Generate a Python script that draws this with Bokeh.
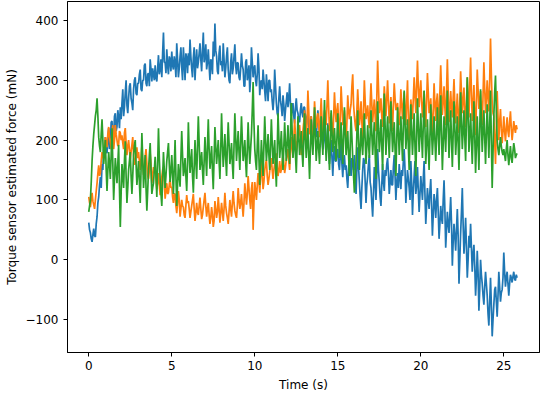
from bokeh.plotting import figure
from bokeh.models import FixedTicker, Range1d
from bokeh.embed import file_html
from bokeh.resources import INLINE

# time step of the sampled traces (s)
dt = 0.05

blue = [
    62, 50, 45, 35, 30, 42, 52, 40, 38, 60, 72, 95, 105, 125, 138, 120, 160, 150, 185, 170,
    205, 190, 178, 200, 220, 185, 195, 230, 232, 205, 210, 240, 245, 215, 222, 250, 238, 220, 255, 235,
    262, 285, 240, 255, 280, 300, 258, 245, 270, 290, 295, 270, 262, 250, 285, 300, 305, 278, 275, 295,
    295, 310, 318, 285, 282, 300, 300, 325, 328, 295, 290, 310, 312, 290, 335, 318, 298, 320, 310, 300,
    325, 305, 298, 320, 342, 310, 318, 335, 305, 345, 380, 330, 330, 312, 352, 325, 310, 340, 335, 315,
    348, 325, 318, 340, 330, 305, 362, 335, 305, 320, 340, 355, 322, 300, 355, 330, 300, 345, 338, 312,
    345, 325, 368, 340, 320, 305, 338, 355, 300, 330, 352, 320, 330, 345, 362, 335, 315, 350, 380, 330,
    340, 360, 318, 330, 352, 325, 300, 335, 330, 310, 365, 340, 395, 350, 340, 315, 310, 345, 358, 325,
    332, 315, 362, 335, 305, 320, 340, 355, 318, 300, 295, 330, 345, 310, 320, 340, 360, 325, 310, 330,
    328, 305, 300, 320, 345, 325, 318, 290, 290, 330, 335, 300, 310, 325, 280, 305, 355, 330, 305, 320,
    325, 300, 290, 310, 345, 320, 275, 295, 300, 285, 318, 300, 282, 265, 310, 290, 265, 300, 300, 280,
    285, 265, 250, 270, 318, 290, 262, 245, 240, 270, 290, 265, 255, 240, 275, 260, 232, 250, 265, 280,
    255, 270, 295, 260, 240, 250, 262, 240, 228, 255, 270, 250, 245, 232, 230, 250, 262, 245, 238, 255,
    255, 235, 225, 240, 245, 225, 210, 230, 240, 220, 195, 215, 230, 215, 205, 225, 250, 230, 215, 205,
    225, 200, 185, 205, 215, 195, 175, 200, 228, 190, 160, 180, 200, 170, 140, 175, 190, 165, 165, 180,
    185, 160, 150, 175, 195, 160, 138, 165, 175, 150, 158, 135, 120, 150, 180, 160, 140, 170, 165, 150,
    175, 140, 110, 150, 188, 155, 130, 105, 85, 120, 150, 170, 165, 130, 95, 125, 140, 160, 175, 130,
    120, 95, 72, 110, 155, 130, 100, 140, 185, 150, 130, 105, 90, 125, 160, 130, 115, 150, 140, 160,
    170, 145, 110, 130, 150, 125, 125, 155, 175, 140, 100, 130, 145, 120, 160, 140, 118, 150, 140, 165,
    185, 150, 95, 125, 150, 135, 120, 100, 165, 130, 75, 115, 140, 165, 110, 125, 155, 115, 80, 110,
    140, 120, 100, 135, 165, 110, 60, 90, 120, 100, 85, 115, 135, 90, 40, 75, 110, 95, 70, 100,
    120, 80, 35, 60, 90, 70, 60, 100, 133, 85, 20, 50, 80, 60, 45, 75, 105, 60, -10, 30,
    60, 40, 15, 50, 85, 40, -40, 0, 45, 80, 120, 60, 10, 35, 70, 20, -30, 0, 40, 20,
    60, 20, -20, 10, 25, -10, -60, -30, 15, -20, -85, -50, 0, -25, -40, -60, -75, -45, -20, -40,
    -60, -90, -110, -70, -30, -75, -128, -100, -75, -50, -45, -70, -95, -60, -20, -45, -70, -55, -50, -30,
    12, -20, -45, -30, -20, -40, -60, -40, -25, -30, -38, -28, -20, -32, -35, -25, -30,
]

orange = [
    105, 95, 88, 100, 112, 98, 92, 85, 100, 115, 128, 145, 158, 140, 145, 165, 180, 170, 172, 190,
    205, 195, 188, 210, 222, 205, 196, 185, 214, 225, 185, 200, 225, 210, 200, 190, 192, 215, 212, 200,
    208, 195, 185, 212, 220, 195, 175, 190, 200, 185, 168, 180, 192, 205, 175, 160, 160, 178, 188, 170,
    180, 165, 150, 170, 190, 160, 142, 155, 172, 185, 160, 140, 135, 150, 178, 160, 128, 140, 155, 145,
    150, 135, 118, 130, 145, 125, 108, 120, 138, 150, 155, 130, 102, 115, 128, 110, 112, 125, 135, 120,
    122, 105, 95, 110, 110, 90, 78, 95, 115, 100, 72, 85, 100, 90, 88, 75, 70, 90, 108, 95,
    98, 85, 70, 80, 90, 100, 110, 85, 65, 78, 95, 80, 75, 90, 104, 85, 68, 75, 88, 100,
    112, 90, 72, 85, 95, 75, 60, 70, 88, 75, 55, 65, 98, 85, 70, 80, 105, 85, 62, 78,
    95, 80, 65, 85, 112, 90, 78, 70, 60, 80, 100, 85, 72, 95, 115, 95, 82, 75, 70, 90,
    120, 100, 85, 95, 110, 90, 72, 95, 128, 110, 92, 110, 140, 120, 100, 85, 118, 130, 50, 95,
    130, 115, 100, 125, 145, 130, 112, 140, 165, 140, 118, 130, 150, 160, 167, 140, 125, 135, 148, 160,
    170, 150, 135, 150, 160, 170, 178, 155, 140, 150, 165, 145, 150, 165, 175, 160, 145, 155, 168, 175,
    185, 165, 150, 180, 205, 190, 172, 200, 235, 210, 180, 195, 200, 215, 225, 200, 175, 195, 215, 230,
    250, 220, 195, 230, 283, 250, 210, 225, 240, 215, 190, 220, 265, 240, 220, 235, 245, 225, 205, 240,
    270, 235, 200, 225, 250, 240, 225, 260, 300, 255, 215, 230, 245, 220, 195, 240, 280, 250, 230, 250,
    262, 230, 205, 240, 290, 260, 225, 235, 250, 220, 195, 230, 275, 250, 235, 250, 260, 290, 310, 260,
    240, 225, 215, 250, 285, 255, 225, 240, 265, 230, 200, 250, 300, 265, 235, 245, 258, 235, 220, 260,
    295, 260, 230, 250, 268, 240, 215, 270, 333, 290, 245, 255, 270, 240, 222, 255, 290, 265, 240, 270,
    300, 265, 228, 250, 272, 240, 215, 260, 295, 270, 250, 255, 262, 240, 225, 250, 285, 260, 235, 260,
    280, 250, 225, 265, 300, 240, 190, 230, 268, 250, 235, 270, 305, 275, 245, 290, 333, 290, 255, 280,
    300, 265, 238, 260, 282, 250, 222, 265, 312, 280, 245, 255, 270, 235, 212, 250, 295, 260, 232, 265,
    278, 245, 222, 280, 325, 280, 242, 265, 290, 255, 225, 280, 335, 280, 230, 250, 282, 255, 238, 270,
    302, 260, 228, 250, 278, 240, 212, 265, 315, 280, 245, 265, 288, 250, 222, 260, 305, 270, 238, 290,
    338, 280, 232, 260, 292, 245, 208, 260, 318, 285, 252, 265, 282, 250, 225, 275, 330, 285, 245, 270,
    300, 270, 248, 300, 370, 310, 262, 245, 240, 200, 160, 220, 282, 240, 200, 230, 252, 220, 195, 215,
    240, 215, 198, 220, 238, 215, 205, 230, 248, 220, 200, 215, 232, 220, 212, 225, 218,
]

green = [
    80, 90, 100, 130, 165, 190, 210, 225, 240, 250, 270, 240, 205, 190, 180, 210, 235, 200, 160, 180,
    200, 150, 115, 150, 180, 160, 135, 175, 220, 160, 100, 135, 170, 150, 128, 160, 192, 120, 55, 110,
    160, 140, 120, 165, 198, 140, 95, 120, 150, 165, 180, 140, 110, 140, 175, 190, 200, 160, 125, 145,
    165, 130, 95, 150, 212, 170, 120, 145, 175, 120, 82, 115, 150, 175, 195, 150, 110, 120, 128, 150,
    172, 140, 105, 160, 220, 170, 135, 110, 90, 135, 180, 150, 120, 140, 165, 180, 195, 160, 130, 150,
    175, 140, 110, 155, 200, 140, 90, 125, 160, 140, 122, 170, 215, 175, 140, 150, 170, 140, 115, 160,
    230, 180, 145, 165, 185, 140, 112, 155, 200, 165, 135, 190, 240, 195, 150, 165, 180, 150, 125, 165,
    205, 170, 140, 190, 235, 185, 152, 170, 190, 150, 118, 170, 222, 190, 160, 180, 200, 165, 135, 185,
    245, 195, 155, 180, 210, 170, 140, 190, 230, 195, 160, 175, 195, 160, 135, 190, 245, 205, 165, 190,
    215, 180, 150, 195, 240, 200, 165, 180, 200, 165, 138, 185, 230, 190, 160, 185, 210, 250, 297, 230,
    185, 165, 150, 190, 225, 170, 125, 160, 200, 170, 140, 190, 240, 200, 165, 185, 210, 175, 150, 190,
    235, 195, 160, 180, 200, 155, 122, 180, 245, 205, 170, 190, 215, 180, 150, 190, 230, 195, 165, 195,
    225, 190, 160, 210, 262, 215, 170, 190, 210, 175, 145, 190, 240, 205, 175, 195, 215, 180, 155, 200,
    245, 205, 170, 195, 220, 175, 135, 185, 235, 200, 175, 210, 255, 210, 165, 190, 215, 185, 160, 200,
    240, 205, 175, 220, 267, 215, 165, 195, 225, 185, 150, 200, 250, 215, 180, 200, 220, 190, 165, 205,
    245, 205, 170, 200, 230, 195, 160, 205, 255, 215, 175, 195, 215, 175, 140, 190, 240, 205, 170, 140,
    112, 140, 165, 210, 250, 200, 150, 185, 220, 195, 175, 210, 245, 200, 160, 190, 225, 195, 170, 210,
    250, 210, 175, 205, 230, 180, 135, 200, 265, 220, 180, 205, 235, 190, 150, 215, 278, 225, 175, 210,
    240, 205, 170, 215, 265, 220, 180, 205, 230, 185, 140, 200, 255, 215, 175, 205, 240, 200, 165, 225,
    283, 230, 185, 210, 235, 190, 150, 205, 260, 215, 175, 210, 245, 190, 140, 205, 270, 225, 180, 210,
    245, 205, 170, 225, 283, 220, 160, 195, 235, 190, 150, 205, 260, 215, 175, 205, 240, 200, 165, 205,
    255, 215, 175, 225, 275, 210, 150, 195, 240, 210, 180, 230, 283, 225, 170, 210, 250, 200, 155, 210,
    265, 220, 175, 205, 240, 195, 150, 215, 280, 230, 185, 215, 250, 205, 165, 235, 305, 240, 180, 210,
    245, 200, 160, 210, 265, 205, 145, 190, 240, 195, 150, 215, 285, 230, 180, 215, 250, 205, 160, 210,
    260, 215, 170, 225, 283, 200, 120, 180, 240, 280, 308, 250, 200, 185, 175, 190, 205, 190, 180, 175,
    185, 175, 165, 185, 200, 175, 158, 175, 190, 170, 162, 180, 195, 185, 170, 175, 178,
]

x_ticks = [0, 5, 10, 15, 20, 25]
y_ticks = [-100, 0, 100, 200, 300, 400]
x_label = "Time (s)"
y_label = "Torque sensor estimated force (mN)"
colors = ["#1f77b4", "#ff7f0e", "#2ca02c"]

p = figure(width=542, height=394, output_backend="svg", toolbar_location=None,
           x_range=Range1d(-1.28, 27.15), y_range=Range1d(-155, 431.7),
           min_border_left=67, min_border_right=3, min_border_top=1, min_border_bottom=41)

for series, c in zip([blue, orange, green], colors):
    t = [i * dt for i in range(len(series))]
    p.line(t, series, line_color=c, line_width=1.7)

p.xgrid.visible = False
p.ygrid.visible = False
p.outline_line_color = "black"
p.outline_line_alpha = 1
p.outline_line_width = 1
p.background_fill_color = "white"
p.border_fill_color = "white"

for ax in (p.xaxis[0], p.yaxis[0]):
    ax.axis_line_color = "black"
    ax.major_tick_line_color = "black"
    ax.major_tick_out = 4
    ax.major_tick_in = 0
    ax.minor_tick_line_color = None
    ax.major_label_text_font = "DejaVu Sans"
    ax.major_label_text_font_size = "12px"
    ax.major_label_text_color = "black"
    ax.axis_label_text_font = "DejaVu Sans"
    ax.axis_label_text_font_size = "12px"
    ax.axis_label_text_font_style = "normal"
    ax.axis_label_text_color = "black"

p.xaxis.ticker = FixedTicker(ticks=x_ticks)
p.yaxis.ticker = FixedTicker(ticks=y_ticks)
p.yaxis.major_label_overrides = {v: (("\u2212" + str(-v)) if v < 0 else str(v)) for v in y_ticks}
p.xaxis.axis_label = x_label
p.yaxis.axis_label = y_label
p.xaxis.major_label_standoff = 4
p.xaxis.axis_label_standoff = 5
p.yaxis.major_label_standoff = 5
p.yaxis.axis_label_standoff = 4

open("out.html", "w").write(file_html(p, INLINE))
